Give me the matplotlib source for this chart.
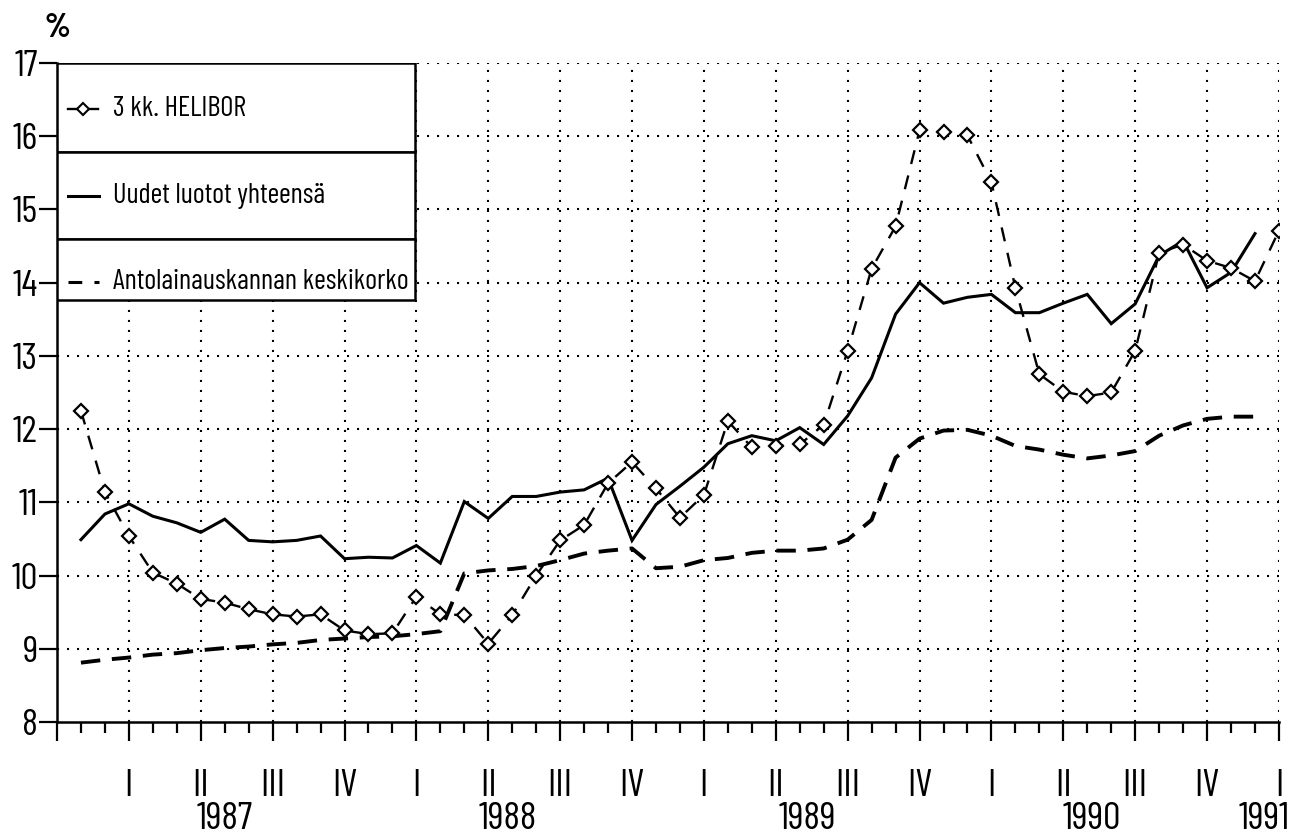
import matplotlib
matplotlib.use('Agg')
import matplotlib.pyplot as plt
from matplotlib.patches import Rectangle

plt.rcParams['font.family'] = ['Barlow Condensed', 'Liberation Sans Narrow', 'DejaVu Sans']

# ---------- data: monthly, month 1 = Jan 1987 ----------
helibor = [12.25, 11.14, 10.54, 10.04, 9.89, 9.68, 9.63, 9.54, 9.47, 9.44, 9.47, 9.25,
           9.20, 9.21, 9.71, 9.47, 9.46, 9.07, 9.46, 10.00, 10.48, 10.69, 11.26, 11.55,
           11.19, 10.79, 11.10, 12.11, 11.75, 11.77, 11.79, 12.06, 13.07, 14.19, 14.77, 16.08,
           16.06, 16.01, 15.37, 13.93, 12.75, 12.51, 12.45, 12.50, 13.07, 14.41, 14.52, 14.30,
           14.20, 14.02, 14.71]
uudet = [10.49, 10.84, 10.98, 10.81, 10.72, 10.59, 10.77, 10.48, 10.46, 10.48, 10.54, 10.23,
         10.25, 10.24, 10.41, 10.17, 11.01, 10.78, 11.08, 11.08, 11.14, 11.17, 11.33, 10.48,
         10.97, 11.22, 11.48, 11.80, 11.91, 11.84, 12.02, 11.79, 12.18, 12.70, 13.57, 14.00,
         13.72, 13.80, 13.84, 13.59, 13.59, 13.72, 13.84, 13.44, 13.71, 14.37, 14.57, 13.93,
         14.14, 14.67]
kanta = [8.81, 8.85, 8.88, 8.92, 8.94, 8.98, 9.01, 9.03, 9.06, 9.08, 9.12, 9.14,
         9.16, 9.17, 9.20, 9.24, 10.03, 10.07, 10.09, 10.13, 10.21, 10.30, 10.34, 10.37,
         10.10, 10.12, 10.21, 10.24, 10.31, 10.34, 10.34, 10.37, 10.49, 10.76, 11.61, 11.87,
         11.98, 11.99, 11.91, 11.77, 11.72, 11.65, 11.60, 11.64, 11.70, 11.91, 12.05, 12.14,
         12.17, 12.17]

labels = ['3 kk. HELIBOR', 'Uudet luotot yhteensä', 'Antolainauskannan keskikorko']
quarters = ['I', 'II', 'III', 'IV']
years = ['1987', '1988', '1989', '1990', '1991']
year_pos = [7.0, 18.8, 31.3, 43.2, 50.4]

N_MONTHS = 51

fig = plt.figure(figsize=(12.95, 8.4), dpi=100)
ax = fig.add_axes([0.0440, 0.1405, 0.9436, 0.7845])

x_h = list(range(1, len(helibor) + 1))
x_u = list(range(1, len(uudet) + 1))
x_k = list(range(1, len(kanta) + 1))

ax.plot(x_h, helibor, color='black', lw=1.7, dashes=(6, 5), marker='D', ms=7,
        mfc='white', mec='black', mew=1.6, zorder=4)
ax.plot(x_u, uudet, color='black', lw=2.2, solid_joinstyle='miter', zorder=3)
ax.plot(x_k, kanta, color='black', lw=2.8, dashes=(5, 3), zorder=3)

# ---------- axes ----------
ax.set_xlim(0, N_MONTHS)
ax.set_ylim(8, 17)
ax.spines['top'].set_visible(False)
ax.spines['right'].set_visible(False)
for s in ('left', 'bottom'):
    ax.spines[s].set_linewidth(1.8)

ax.set_yticks(range(8, 18))
ax.tick_params(axis='y', direction='out', length=13, width=1.6, pad=1, labelsize=27)

ax.set_xticks(range(0, N_MONTHS + 1, 3))
ax.set_xticklabels([''] + [quarters[i % 4] for i in range(N_MONTHS // 3)])
ax.set_xticks(range(0, N_MONTHS + 1), minor=True)
ax.tick_params(axis='x', which='major', direction='out', length=14, width=1.6,
               pad=20, labelsize=28)
ax.tick_params(axis='x', which='minor', direction='out', length=8, width=1.6)

for xq in range(3, N_MONTHS + 1, 3):
    ax.axvline(xq, color='black', lw=1.5, dashes=(1, 3.8), zorder=1)
for yv in range(9, 18):
    ax.axhline(yv, color='black', lw=1.5, dashes=(1, 3.8), zorder=1)

for yr, xp in zip(years, year_pos):
    ax.text(xp, -0.148, yr, transform=ax.get_xaxis_transform(), ha='center',
            va='center', fontsize=28)

ax.text(0.0, 17.48, '%', ha='center', va='center', fontsize=24, fontweight='bold',
        clip_on=False)

# ---------- legend box ----------
box_x1 = 14.95
rows = [(17.0, 15.79), (15.79, 14.59), (14.59, 13.76)]
for top, bot in rows:
    ax.add_patch(Rectangle((0, bot), box_x1, top - bot, facecolor='white',
                           edgecolor='black', lw=1.8, zorder=6))
text_y = [17 - (109 - 63) / 73.2, 17 - (196 - 63) / 73.2, 17 - (282 - 63) / 73.2]
ax.plot([0.45, 1.7], [text_y[0]] * 2, color='black', lw=1.7, zorder=7)
ax.plot([1.1], [text_y[0]], marker='D', ms=6, mfc='white', mec='black', mew=1.5,
        zorder=8)
ax.plot([0.45, 1.75], [text_y[1]] * 2, color='black', lw=2.2, zorder=7)
ax.plot([0.45, 1.75], [text_y[2]] * 2, color='black', lw=2.2, dashes=(4.5, 4),
        zorder=7)
for t, yv in zip(labels, text_y):
    ax.text(2.35, yv, t, ha='left', va='center', fontsize=20.5, zorder=8)

fig.savefig('out.png', dpi=100)
